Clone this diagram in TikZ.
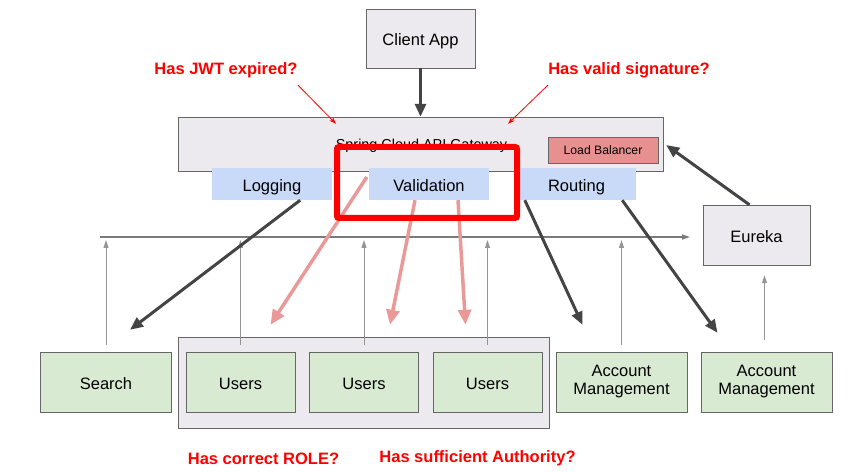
\documentclass[tikz,border=0pt]{standalone}
\usepackage{fontspec}
\setmainfont{Liberation Sans}
\usetikzlibrary{arrows.meta}

\definecolor{boxgray}{HTML}{ECEAEE}
\definecolor{edgegray}{HTML}{666666}
\definecolor{svcgreen}{HTML}{D9EAD3}
\definecolor{filtblue}{HTML}{C9DAF8}
\definecolor{lbred}{HTML}{E6908F}
\definecolor{callgray}{HTML}{444444}
\definecolor{checkpink}{HTML}{EA9999}
\definecolor{busgray}{HTML}{7A7A7A}
\definecolor{hotred}{HTML}{FF0000}

\tikzset{
  mid/.style={text height=15pt, text depth=0pt},
  plain/.style={draw=edgegray, fill=boxgray, inner sep=0pt, align=center, mid,
    font=\fontsize{16.5}{20}\selectfont},
  svc/.style={draw=edgegray, fill=svcgreen, minimum width=131pt, minimum height=60pt,
    inner sep=0pt, align=center, font=\fontsize{16.5}{18}\selectfont},
  filt/.style={fill=filtblue, minimum width=120pt, minimum height=32pt, inner sep=0pt, mid,
    font=\fontsize{16.5}{20}\selectfont},
  note/.style={text=hotred, inner sep=0pt, font=\bfseries\fontsize{16.5}{20}\selectfont},
  call/.style={draw=callgray, line width=3pt, -{Triangle[length=13pt,width=11pt]}},
  check/.style={draw=checkpink, line width=3.5pt, -{Triangle[length=15pt,width=13pt]}},
  hint/.style={draw=hotred, line width=0.8pt, -{Stealth[length=7pt,width=5pt]}},
  bus/.style={draw=busgray, line width=1.2pt, -{Triangle[length=8pt,width=5pt]}},
  up/.style={draw=busgray!80, line width=1pt, -{Triangle[length=8pt,width=5pt]}}
}

\begin{document}
\begin{tikzpicture}[x=1pt,y=-1pt]
\useasboundingbox (0,0) rectangle (855,473);

\node[plain, minimum width=109pt, minimum height=59pt] (client) at (420.5,38.5) {Client App};
\node[plain, minimum width=485pt, minimum height=54pt] (gateway) at (420.5,144) {};
\node[font=\fontsize{14.4}{16}\selectfont, inner sep=0pt, anchor=base] (gwlabel) at (421.5,149.5) {Spring Cloud API Gateway};
\node[draw=edgegray, fill=lbred, minimum width=110pt, minimum height=26pt, inner sep=0pt,
  font=\fontsize{12.2}{14}\selectfont] (lb) at (603,150) {Load Balancer};
\node[plain, minimum width=107pt, minimum height=60pt] (eureka) at (756.5,235) {Eureka};

\node[filt] (logging) at (272,184) {Logging};
\node[filt] (validation) at (429,184) {Validation};
\node[filt, minimum width=119pt] (routing) at (576.5,184) {Routing};

\node[draw=edgegray, fill=boxgray, minimum width=371pt, minimum height=91pt, inner sep=0pt] (userbox) at (363.5,382.5) {};
\node[svc, mid] (search) at (106,382) {Search};
\foreach \n/\x in {users1/240.5, users2/364, users3/487.5}
  \node[svc, mid, minimum width=109pt] (\n) at (\x,382) {Users};
\node[svc] (acc1) at (621.5,382) {Account\\Management};
\node[svc] (acc2) at (766.5,382) {Account\\Management};

\node[note] (jwt) at (226,70) {Has JWT expired?};
\node[note] (sig) at (629,70) {Has valid signature?};
\node[note] (role) at (263.5,459) {Has correct ROLE?};
\node[note] (auth) at (477.5,458) {Has sufficient Authority?};

\coordinate (busL) at (100,237);
\coordinate (busR) at (690,237);
\coordinate (tips) at (0,240);
\draw[bus] (busL) -- (busR);
\foreach \n in {search, users1, users2, users3, acc1}
  \draw[up] ([yshift=7pt]\n.north) -- (\n.north |- tips);
\draw[up] ([xshift=-2pt,yshift=12pt]acc2.north) -- ([xshift=8pt,yshift=-10pt]eureka.south);

\draw[hint] ([yshift=-7pt]jwt.south east) -- ([xshift=-84.5pt,yshift=-7pt]gateway.north);
\draw[hint] ([yshift=-7pt]sig.south west) -- ([xshift=87.5pt,yshift=-7pt]gateway.north);

\draw[call] (client.south) -- (gateway.north);
\draw[call] ([xshift=-32pt]logging.south east) -- ([xshift=24pt,yshift=22pt]search.north);
\draw[call] ([xshift=8pt]routing.south west) -- ([xshift=-39pt,yshift=27pt]acc1.north);
\draw[call] ([xshift=-14pt]routing.south east) -- ([xshift=-49pt,yshift=19pt]acc2.north);
\draw[call] ([xshift=-7pt]eureka.north) -- ([xshift=8pt,yshift=5pt]lb.east);

\draw[check] ([xshift=-2pt,yshift=7pt]validation.west) -- ([xshift=30pt,yshift=27pt]users1.north);
\draw[check] ([xshift=-14pt]validation.south) -- ([xshift=26pt,yshift=27pt]users2.north);
\draw[check] ([xshift=29pt]validation.south) -- ([xshift=-22pt,yshift=27pt]users3.north);

\draw[draw=hotred, line width=6pt, rounded corners=2pt] (337,147) rectangle (517,218);
\end{tikzpicture}
\end{document}
